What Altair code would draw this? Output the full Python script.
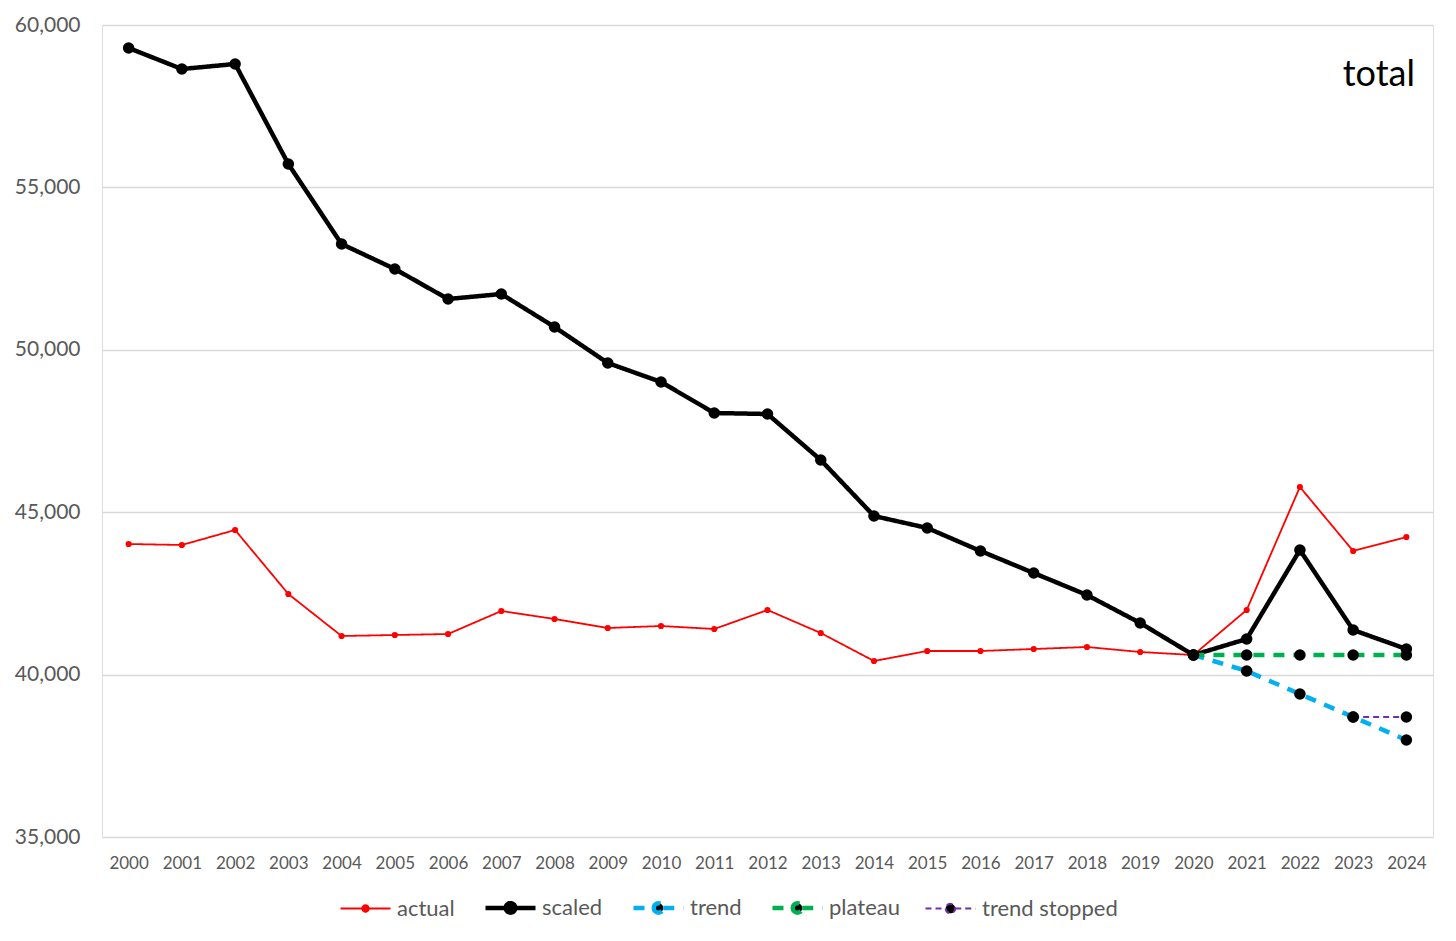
import altair as alt
import pandas as pd

years = list(range(2000, 2025))
actual = [44021, 43990, 44452, 42482, 41188, 41219, 41250, 41958, 41712, 41435,
          41496, 41404, 41989, 41281, 40419, 40727, 40727, 40788, 40850, 40696,
          40603, 41989, 45776, 43806, 44236]
scaled = [59292, 58645, 58800, 55720, 53257, 52488, 51564, 51718, 50702, 49594,
          49009, 48054, 48023, 46607, 44883, 44514, 43806, 43128, 42451, 41589,
          40603, 41096, 43836, 41373, 40788]
proj_years = [2020, 2021, 2022, 2023, 2024]
trend = [40603, 40111, 39402, 38695, 37986]
plateau = [40603, 40603, 40603, 40603, 40603]
stopped_years = [2023, 2024]
trend_stopped = [38695, 38695]

series_names = ["actual", "scaled", "trend", "plateau", "trend stopped"]
line_colors = ["#ff0000", "#000000", "#00b0f0", "#00b050", "#7030a0"]
dot_colors = ["#ff0000", "#000000", "#000000", "#000000", "#000000"]
line_widths = [1.8, 4.5, 4.5, 4.5, 2]
line_dashes = [[1, 0], [1, 0], [11, 9], [11, 9], [6, 4]]
y_ticks = [35000, 40000, 45000, 50000, 55000, 60000]

rows = []
for name, xs, vs in [("actual", years, actual), ("scaled", years, scaled),
                     ("trend", proj_years, trend), ("plateau", proj_years, plateau),
                     ("trend stopped", stopped_years, trend_stopped)]:
    for x, v in zip(xs, vs):
        rows.append({"series": name, "year": x, "value": v})
df = pd.DataFrame(rows)

FONT = "Lato"
LX, LY = 236, 855
SMALL = "M-1,0H-0.13M0.13,0H1M-0.13,0A0.13,0.13,0,1,0,0.13,0A0.13,0.13,0,1,0,-0.13,0Z"
BIG = "M-1,0H-0.19M0.19,0H1M-0.19,0A0.19,0.19,0,1,0,0.19,0A0.19,0.19,0,1,0,-0.19,0Z"
legend_shapes = [SMALL, BIG, BIG, BIG, BIG]

x_enc = alt.X("year:O", scale=alt.Scale(type="point", padding=0.5),
              axis=alt.Axis(title=None, labelAngle=0, domain=False, ticks=False,
                            labelFontSize=17, labelColor="#595959", labelPadding=18,
                            labelFont=FONT, grid=False))
y_enc = alt.Y("value:Q", scale=alt.Scale(domain=[35000, 60000], nice=False, zero=False),
              axis=alt.Axis(title=None, values=y_ticks, format=",.0f", domain=False, ticks=False,
                            labelFontSize=21, labelColor="#595959", labelPadding=22,
                            labelFont=FONT, gridColor="#d9d9d9", gridWidth=1.3))

base = alt.Chart(df)
fill_scale = alt.Scale(domain=series_names, range=dot_colors)

lines = base.mark_line().encode(
    x=x_enc, y=y_enc,
    color=alt.Color("series:N", scale=alt.Scale(domain=series_names, range=line_colors)),
    strokeWidth=alt.StrokeWidth("series:N", scale=alt.Scale(type="ordinal", domain=series_names,
                                                            range=line_widths)),
    strokeDash=alt.StrokeDash("series:N", scale=alt.Scale(domain=series_names, range=line_dashes)),
)

dots_actual = base.transform_filter(alt.datum.series == "actual").mark_circle(
    opacity=1, size=38).encode(x=x_enc, y=y_enc, fill=alt.Fill("series:N", scale=fill_scale))
dots_other = base.transform_filter(alt.datum.series != "actual").mark_circle(
    opacity=1, size=133).encode(x=x_enc, y=y_enc, fill=alt.Fill("series:N", scale=fill_scale))

# invisible layer that only supplies the legend's line-and-dot symbol shapes
legend_shape = base.mark_point(filled=True, opacity=0).encode(
    x=x_enc, y=y_enc,
    fill=alt.Fill("series:N", scale=fill_scale),
    shape=alt.Shape("series:N", scale=alt.Scale(domain=series_names, range=legend_shapes)),
)

title_text = alt.Chart(pd.DataFrame({"t": ["total"]})).mark_text(
    fontSize=36, font=FONT, align="right", baseline="middle", color="#000000"
).encode(x=alt.value(1313), y=alt.value(50), text="t:N")

chart = alt.layer(lines, dots_actual, dots_other, legend_shape, title_text).properties(
    width=1331, height=812,
    padding={"left": 6, "top": 6, "right": 5, "bottom": 5},
    background="#ffffff",
).configure_view(stroke=None).configure(font=FONT).configure_legend(
    title=None, orient="none", legendX=LX, legendY=LY, direction="horizontal", columns=5,
    symbolSize=2500, symbolOpacity=1,
    labelFontSize=22, labelColor="#595959", labelFont=FONT, labelOffset=4,
    columnPadding=21, padding=0,
)

chart.save("out.html", embed_options={"renderer": "svg", "actions": False})
